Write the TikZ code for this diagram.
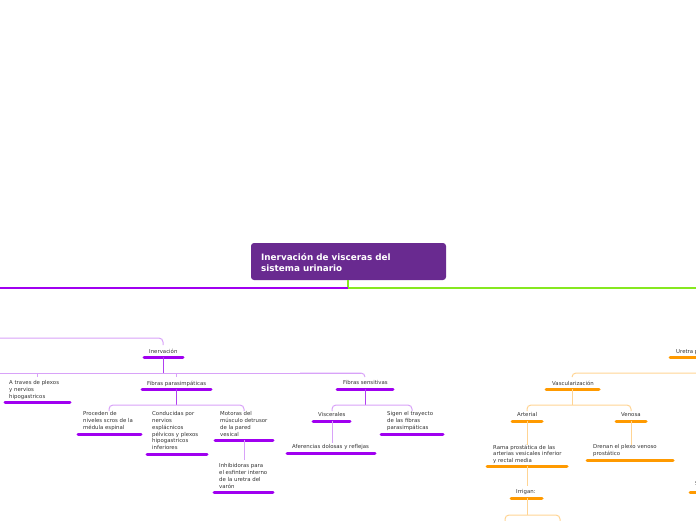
\documentclass[tikz,border=0pt]{standalone}
\usepackage{fontspec}
\setmainfont{DejaVu Sans}
\definecolor{boxpurple}{HTML}{692A90}
\definecolor{violet}{HTML}{A000F0}
\definecolor{midpurple}{HTML}{B040F0}
\definecolor{lavender}{HTML}{D8A2F8}
\definecolor{lime}{HTML}{86E820}
\definecolor{orangeul}{HTML}{FF9A00}
\definecolor{lightorange}{HTML}{FFD493}
\definecolor{textgray}{HTML}{333333}
\tikzset{
  txt/.style={anchor=north west, inner sep=0pt, align=left, text=textgray,
              font=\fontsize{5.4}{6.7}\selectfont},
  ulp/.style={violet, line width=3pt, line cap=round},
  ulo/.style={orangeul, line width=3pt, line cap=round},
  conlav/.style={lavender, line width=1pt, rounded corners=4pt},
  conmid/.style={midpurple, line width=1pt},
  conor/.style={lightorange, line width=1pt, rounded corners=4pt},
}
\begin{document}
\begin{tikzpicture}[x=1pt,y=-1pt]
\useasboundingbox (0,0) rectangle (696,520);
\clip (0,0) rectangle (696,520);

% root
\node[fill=boxpurple, rounded corners=3pt, minimum width=195pt, minimum height=37pt,
      inner sep=0pt] (root) at (348.5,261.5) {};
\node[anchor=north west, inner sep=0pt, align=left, text=white,
      font=\fontsize{8.8}{10.5}\bfseries] (roottxt) at (261,253.5)
      {Inervación de visceras del\\sistema urinario};

\coordinate (rootb) at (348,280);
\coordinate (hub) at (348,288);
\coordinate (leftend) at (0,288);
\coordinate (rightend) at (696,288);
\draw[lime, line width=1.5pt] (rootb) -- (hub) -- (rightend);
\draw[violet, line width=1.5pt] (leftend) -- (hub);

% ---- purple (left) side ----
\node[txt] (inerv) at (149,348.6) {Inervación};
\coordinate (inervL) at (144,357); \coordinate (inervR) at (183,357);
\draw[ulp] (inervL) -- (inervR);
\coordinate (inervtop) at (163,345);
\draw[conlav] (0,338) -| (inervtop);

\coordinate (inervbar) at (163,357);
\coordinate (bus1) at (163,373);
\draw[conmid] (inervbar) -- (bus1);
\draw[lavender, line width=1pt] (0,373) -- (361,373);
\draw[conlav] (300,373) -| (365,377);
\draw[lavender, line width=1pt] (37,373) -- (37,377);
\draw[lavender, line width=1pt] (176,373) -- (176,377);

\node[txt] (atraves) at (9,380.6) {A traves de plexos\\y nervios\\hipogastricos};
\draw[ulp] (5,402) -- (70,402);

\node[txt] (fpara) at (147,380.6) {Fibras parasimpáticas};
\draw[ulp] (142,389) -- (211,389);
\coordinate (fparabar) at (176,389);
\coordinate (fparabus) at (176,405);
\draw[conmid] (fparabar) -- (fparabus);
\draw[conlav] (109,411) |- (244,405) -- (244,411);

\node[txt] (proceden) at (83,411.6) {Proceden de\\niveles scros de la\\médula espinal};
\draw[ulp] (78,434) -- (141,434);

\node[txt] (conducidas) at (152,411.6) {Conducidas por\\nervios\\esplácnicos\\pélvicos y plexos\\hipogastricos\\inferiores};
\draw[ulp] (147,454) -- (207,454);

\node[txt] (motoras) at (220,411.6) {Motoras del\\músculo detrusor\\de la pared\\vesical};
\draw[ulp] (215,440) -- (273,440);
\coordinate (motbar) at (244,440);
\coordinate (inhtop) at (244,460);
\draw[lavender, line width=1pt] (motbar) -- (inhtop);

\node[txt] (inhib) at (219,463.6) {Inhibidoras para\\el esfinter interno\\de la uretra del\\varón};
\draw[ulp] (214,492) -- (273,492);

\node[txt] (fsens) at (343,380.6) {Fibras sensitivas};
\draw[ulp] (337,389) -- (393,389);
\coordinate (fsensbar) at (365,389);
\coordinate (fsensbus) at (365,405);
\draw[conmid] (fsensbar) -- (fsensbus);
\draw[conlav] (332,411) |- (412,405) -- (412,411);

\node[txt] (visc) at (318,412.6) {Viscerales};
\draw[ulp] (313,421) -- (350,421);
\coordinate (viscbar) at (332,421);
\coordinate (afertop) at (332,443);
\draw[lavender, line width=1pt] (viscbar) -- (afertop);

\node[txt] (afer) at (292,444.6) {Aferencias dolosas y reflejas};
\draw[ulp] (287,453) -- (375,453);

\node[txt] (sigen) at (387,411.6) {Sigen el trayecto\\de las fibras\\parasimpáticas};
\draw[ulp] (381,434) -- (443,434);

% ---- orange (right) side ----
\node[txt] (uretra) at (676,348.6) {Uretra prostática};
\draw[ulo] (670,357) -- (700,357);

\coordinate (vasctop) at (572,377);
\draw[conor] (700,373) -| (vasctop);

\node[txt] (vasc) at (552,380.6) {Vascularización};
\draw[ulo] (546,389) -- (599,389);
\coordinate (vascbar) at (572,389);
\coordinate (vascbus) at (572,405);
\draw[lightorange, line width=1pt] (vascbar) -- (vascbus);
\draw[conor] (527,411) |- (631,405) -- (631,411);

\node[txt] (arterial) at (517,412.6) {Arterial};
\draw[ulo] (512,421) -- (542,421);
\node[txt] (venosa) at (621,412.6) {Venosa};
\draw[ulo] (616,421) -- (646,421);

\coordinate (artbar) at (527,421); \coordinate (ramatop) at (527,445);
\coordinate (venbar) at (631,421); \coordinate (drentop) at (631,445);
\draw[lightorange, line width=1pt] (artbar) -- (ramatop);
\draw[lightorange, line width=1pt] (venbar) -- (drentop);

\node[txt] (rama) at (493,444.6) {Rama prostática de las\\arterias vesicales inferior\\y rectal media};
\draw[ulo] (487,466) -- (567,466);
\node[txt] (drenan) at (593,444.6) {Drenan el plexo venoso\\prostático};
\draw[ulo] (587,460) -- (673,460);

\coordinate (ramabar) at (527,466); \coordinate (irrtop) at (527,486);
\draw[lightorange, line width=1pt] (ramabar) -- (irrtop);

\node[txt] (irrigan) at (516,489.6) {Irrigan:};
\draw[ulo] (511,498) -- (542,498);
\coordinate (irrbar) at (527,498); \coordinate (irrbus) at (527,515);
\draw[lightorange, line width=1pt] (irrbar) -- (irrbus);
\draw[conor] (505,522) |- (560,515) -- (560,522);

\node[txt] (sright) at (695,481.6) {S};
\draw[ulo] (690,492) -- (700,492);
\end{tikzpicture}
\end{document}
